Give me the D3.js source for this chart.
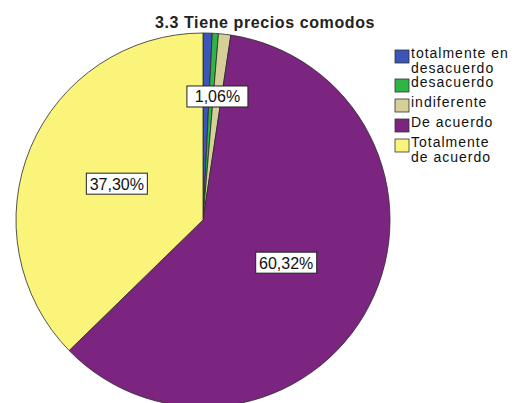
<!DOCTYPE html>
<html>
<head>
<meta charset="utf-8">
<script src="https://cdn.jsdelivr.net/npm/d3@7"></script>
<style>
  html, body { margin: 0; padding: 0; background: #fff; }
  svg { display: block; font-family: "Liberation Sans", Arial, sans-serif; }
</style>
</head>
<body>
<svg id="chart" width="520" height="403"></svg>
<script>
// Response categories, in drawing order (clockwise from 12 o'clock)
const categories = [
  "totalmente en desacuerdo",
  "desacuerdo",
  "indiferente",
  "De acuerdo",
  "Totalmente de acuerdo"
];
// Legend text, wrapped as displayed
const legendLines = [
  ["totalmente en", "desacuerdo"],
  ["desacuerdo"],
  ["indiferente"],
  ["De acuerdo"],
  ["Totalmente", "de acuerdo"]
];
// Percent of respondents
const percents = [0.79, 0.53, 1.06, 60.32, 37.30];
// Which slices carry a value label
const labelled = [false, false, true, true, true];
const colors = ["#3b56b8", "#2fb545", "#d6cf97", "#7b2581", "#fbf47a"];
const title = "3.3 Tiene precios comodos";

const svg = d3.select("#chart");
const cx = 203, cy = 220, R = 187;

svg.append("text")
  .attr("x", 265).attr("y", 28)
  .attr("text-anchor", "middle")
  .attr("font-size", 16).attr("font-weight", "bold")
  .attr("letter-spacing", 0.6)
  .attr("fill", "#222")
  .text(title);

const pie = d3.pie().sort(null).value(d => d.v);
const data = categories.map((c, i) => ({ c, v: percents[i], i }));
const arcs = pie(data);
const arc = d3.arc().innerRadius(0).outerRadius(R);

const g = svg.append("g").attr("transform", `translate(${cx},${cy})`);
g.selectAll("path.slice")
  .data(arcs)
  .join("path")
  .attr("class", "slice")
  .attr("d", arc)
  .attr("fill", d => colors[d.data.i])
  .attr("stroke", "#2a2a2a")
  .attr("stroke-width", 0.8);

// Value labels: boxed, placed inside the slice
const fmt = v => v.toFixed(2).replace(".", ",") + "%";
const lab = g.selectAll("g.lab")
  .data(arcs.filter(d => labelled[d.data.i]))
  .join("g")
  .attr("class", "lab")
  .attr("transform", d => {
    const r = d.data.v < 5 ? R * 0.665 : R * 0.5;
    const a = (d.startAngle + d.endAngle) / 2;
    return `translate(${r * Math.sin(a)},${-r * Math.cos(a)})`;
  });
lab.append("rect")
  .attr("x", -30.5).attr("y", -10.5)
  .attr("width", 61).attr("height", 21)
  .attr("fill", "#fff")
  .attr("stroke", "#222").attr("stroke-width", 1);
lab.append("text")
  .attr("text-anchor", "middle")
  .attr("y", 6)
  .attr("font-size", 16)
  .attr("fill", "#111")
  .text(d => fmt(d.data.v));

// Legend
const legendTops = [47, 76, 96, 116, 136];
const leg = svg.append("g");
categories.forEach((c, i) => {
  const y0 = legendTops[i];
  leg.append("rect")
    .attr("x", 395).attr("y", y0 + 3)
    .attr("width", 14).attr("height", 13)
    .attr("fill", colors[i])
    .attr("stroke", "#333").attr("stroke-width", 0.8);
  legendLines[i].forEach((line, j) => {
    leg.append("text")
      .attr("x", 411).attr("y", y0 + 11 + j * 14.5)
      .attr("font-size", 14)
      .attr("letter-spacing", 1)
      .attr("fill", "#111")
      .text(line);
  });
});
</script>
</body>
</html>
